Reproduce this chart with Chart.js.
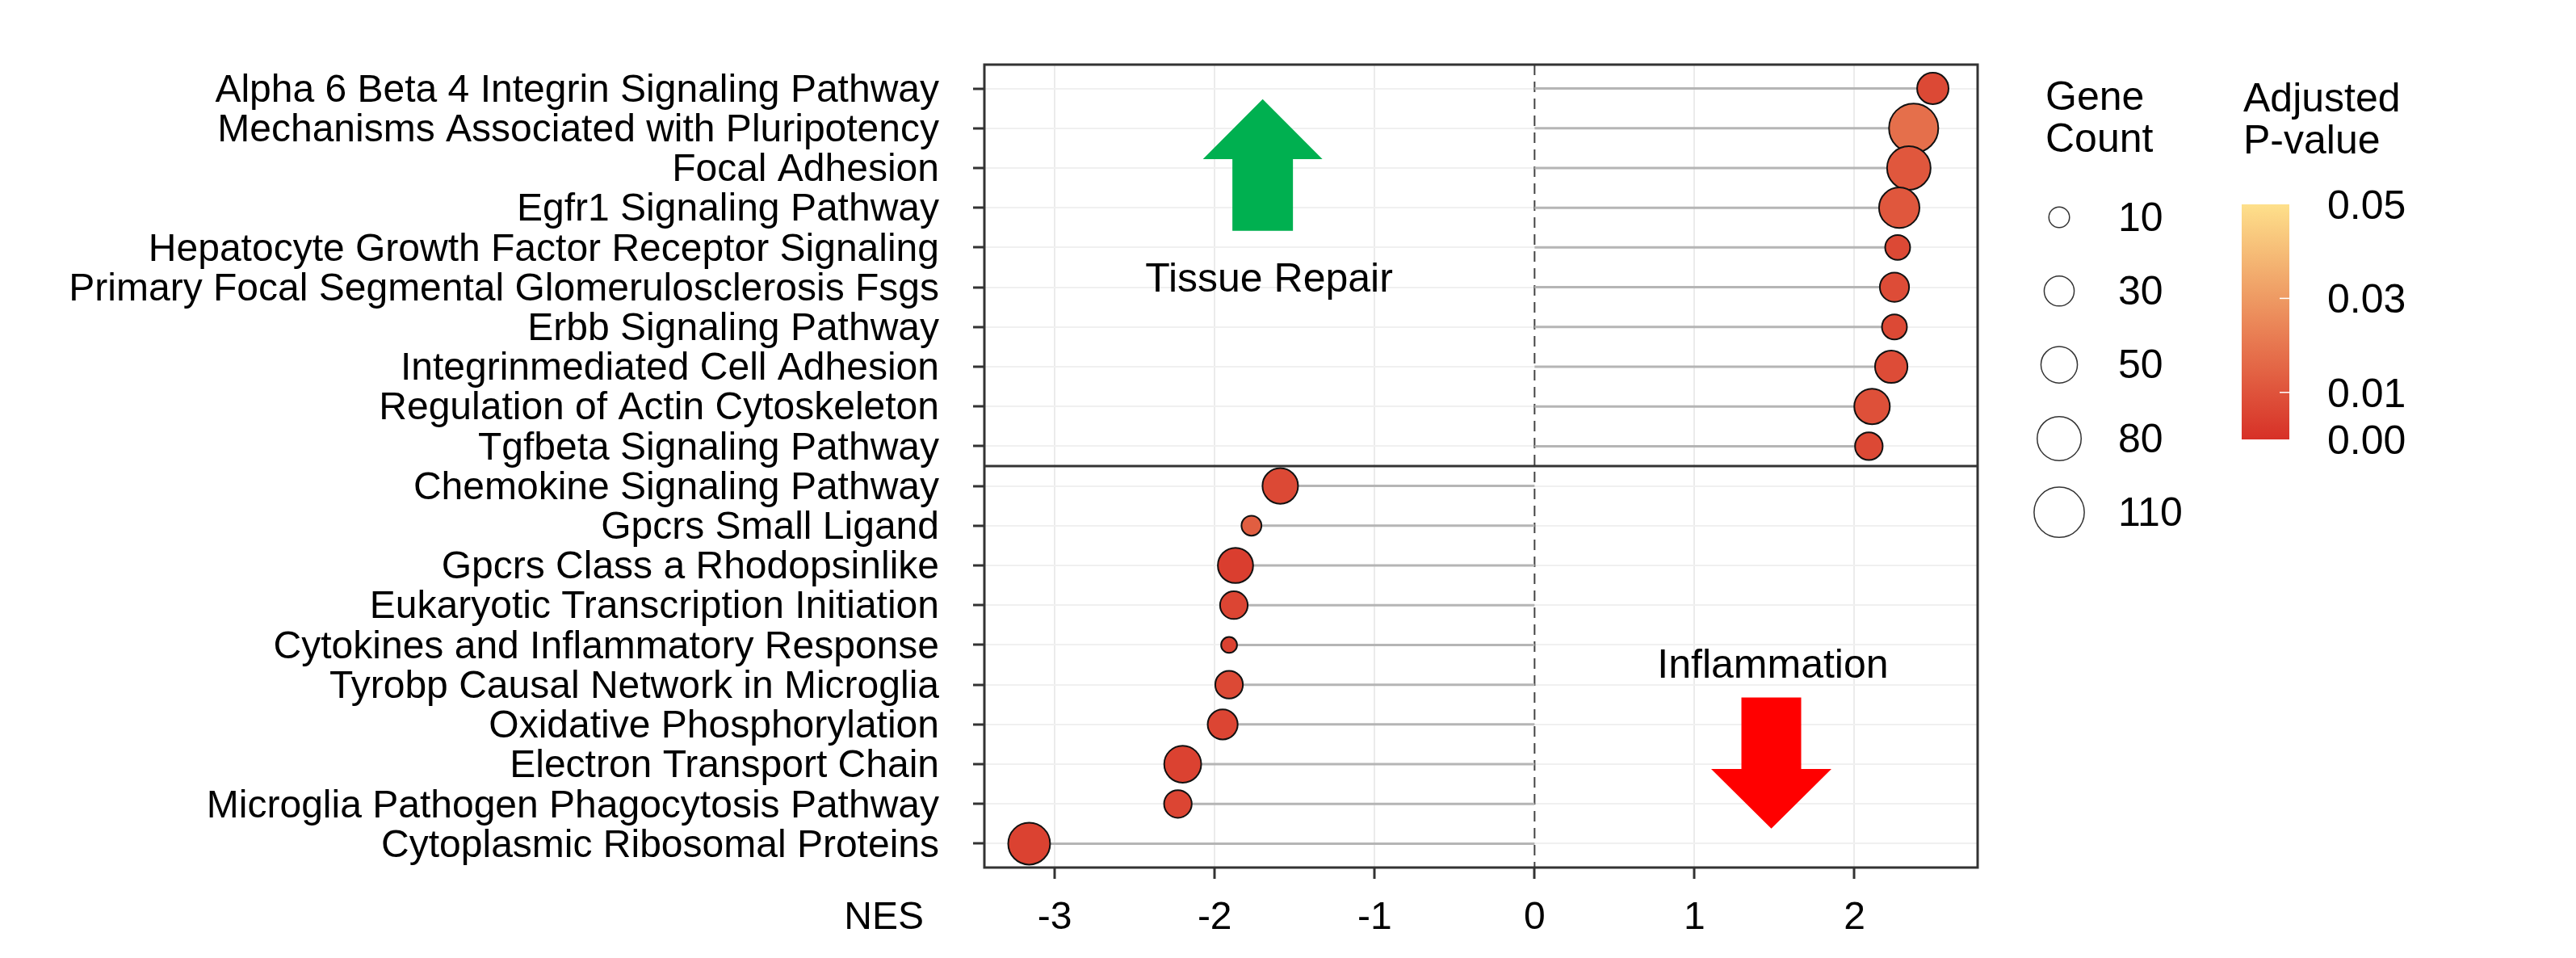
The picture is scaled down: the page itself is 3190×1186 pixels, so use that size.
<!DOCTYPE html>
<html>
<head>
<meta charset="utf-8">
<script src="https://cdn.jsdelivr.net/npm/chart.js@4.4.1/dist/chart.umd.min.js"></script>
<style>
  html, body { margin: 0; padding: 0; background: #ffffff; }
  #wrap { width: 3190px; height: 1186px; }
</style>
</head>
<body>
<div id="wrap"><canvas id="myChart" width="3190" height="1186"></canvas></div>
<script>
const pathways = [
  'Alpha 6 Beta 4 Integrin Signaling Pathway',
  'Mechanisms Associated with Pluripotency',
  'Focal Adhesion',
  'Egfr1 Signaling Pathway',
  'Hepatocyte Growth Factor Receptor Signaling',
  'Primary Focal Segmental Glomerulosclerosis Fsgs',
  'Erbb Signaling Pathway',
  'Integrinmediated Cell Adhesion',
  'Regulation of Actin Cytoskeleton',
  'Tgfbeta Signaling Pathway',
  'Chemokine Signaling Pathway',
  'Gpcrs Small Ligand',
  'Gpcrs Class a Rhodopsinlike',
  'Eukaryotic Transcription Initiation',
  'Cytokines and Inflammatory Response',
  'Tyrobp Causal Network in Microglia',
  'Oxidative Phosphorylation',
  'Electron Transport Chain',
  'Microglia Pathogen Phagocytosis Pathway',
  'Cytoplasmic Ribosomal Proteins'
]
const nes = [2.49, 2.37, 2.34, 2.28, 2.27, 2.25, 2.25, 2.23, 2.11, 2.09,
  -1.59, -1.77, -1.87, -1.88, -1.91, -1.91, -1.95, -2.20, -2.23, -3.16]
const geneCount = [34, 105, 78, 65, 18, 28, 18, 37, 47, 24,
  47, 9, 46, 24, 4, 24, 30, 52, 24, 71]
const padj = [0.007, 0.018, 0.011, 0.011, 0.007, 0.008, 0.007, 0.008, 0.009, 0.007,
  0.007, 0.013, 0.004, 0.006, 0.005, 0.007, 0.006, 0.005, 0.006, 0.005]
const nesTicks = [-3, -2, -1, 0, 1, 2]
const sizeBreaks = [10, 30, 50, 80, 110]
const padjBreaks = [0.05, 0.03, 0.01, 0.00]

const FONT = "'Liberation Sans', Arial, sans-serif"
const lowColor = [215, 48, 39]
const highColor = [254, 224, 139]

// p-value -> colour, linear between red and pale yellow over 0..0.05
function padjColor(p) {
  const t = Math.max(0, Math.min(1, p / 0.05))
  const c = lowColor.map((v, k) => Math.round(v + (highColor[k] - v) * t))
  return 'rgb(' + c.join(',') + ')'
}
// gene count -> bubble radius in px
function sizeRadius(n) {
  return (11.7 + 5.01 * Math.sqrt(n)) / 2 - 1
}

const bubbleData = nes.map((v, i) => ({ x: v, y: i, r: sizeRadius(geneCount[i]) }))
const stemSets = nes.map((v, i) => ({
  type: 'line',
  data: [{ x: 0, y: i }, { x: v, y: i }],
  borderColor: '#b5b5b5',
  borderWidth: 3,
  pointRadius: 0,
  order: 2,
  clip: false,
}))

function arrow(ctx, cx, tipY, baseY, endY, headHalf, shaftHalf, color) {
  ctx.save()
  ctx.fillStyle = color
  ctx.beginPath()
  ctx.moveTo(cx, tipY)
  ctx.lineTo(cx + headHalf, baseY)
  ctx.lineTo(cx + shaftHalf, baseY)
  ctx.lineTo(cx + shaftHalf, endY)
  ctx.lineTo(cx - shaftHalf, endY)
  ctx.lineTo(cx - shaftHalf, baseY)
  ctx.lineTo(cx - headHalf, baseY)
  ctx.closePath()
  ctx.fill()
  ctx.restore()
}

const decor = {
  id: 'decor',
  beforeDatasetsDraw(chart) {
    const { ctx, chartArea, scales } = chart
    const x0 = scales.x.getPixelForValue(0)
    ctx.save()
    ctx.strokeStyle = '#444444'
    ctx.lineWidth = 2
    ctx.setLineDash([13, 8])
    ctx.beginPath()
    ctx.moveTo(x0, chartArea.top)
    ctx.lineTo(x0, chartArea.bottom)
    ctx.stroke()
    ctx.restore()
  },
  afterDatasetsDraw(chart) {
    const { ctx, chartArea, scales } = chart
    ctx.save()
    ctx.strokeStyle = '#333333'
    ctx.lineWidth = 3
    ctx.strokeRect(chartArea.left, chartArea.top, chartArea.right - chartArea.left, chartArea.bottom - chartArea.top)
    const yd = scales.y.getPixelForValue(9.5)
    ctx.beginPath()
    ctx.moveTo(chartArea.left, yd)
    ctx.lineTo(chartArea.right, yd)
    ctx.stroke()
    ctx.restore()
  },
  afterDraw(chart) {
    const { ctx, chartArea, scales } = chart
    const xs = scales.x, ys = scales.y

    // annotations
    arrow(ctx, xs.getPixelForValue(-1.70), ys.getPixelForValue(0.27), ys.getPixelForValue(1.78),
      ys.getPixelForValue(3.58), 74, 37.5, '#00b050')
    arrow(ctx, xs.getPixelForValue(1.48), ys.getPixelForValue(18.62), ys.getPixelForValue(17.12),
      ys.getPixelForValue(15.32), 74.5, 37, '#ff0000')
    ctx.save()
    ctx.fillStyle = '#000000'
    ctx.font = '50px ' + FONT
    ctx.textAlign = 'center'
    ctx.textBaseline = 'alphabetic'
    ctx.fillText('Tissue Repair', xs.getPixelForValue(-1.66), ys.getPixelForValue(5.12))
    ctx.fillText('Inflammation', xs.getPixelForValue(1.49), ys.getPixelForValue(14.83))

    // x axis title
    ctx.font = '48px ' + FONT
    ctx.textAlign = 'right'
    ctx.fillText('NES', chartArea.left - 75, 1150)

    // size legend
    const lx = chartArea.right + 84
    ctx.textAlign = 'left'
    ctx.font = '50px ' + FONT
    ctx.fillText('Gene', lx, 136)
    ctx.fillText('Count', lx, 188)
    ctx.textBaseline = 'middle'
    sizeBreaks.forEach((b, i) => {
      const cy = 269 + i * 91.3
      ctx.beginPath()
      ctx.arc(lx + 17, cy, sizeRadius(b), 0, Math.PI * 2)
      ctx.strokeStyle = '#333333'
      ctx.lineWidth = 1.5
      ctx.stroke()
      ctx.fillText(String(b), lx + 90, cy + 3)
    })

    // colour bar legend
    const cx = chartArea.right + 327
    const barTop = 253, barBot = 544, barW = 59
    ctx.textBaseline = 'alphabetic'
    ctx.fillText('Adjusted', cx + 2, 138)
    ctx.fillText('P-value', cx + 2, 190)
    const grad = ctx.createLinearGradient(0, barBot, 0, barTop)
    for (let s = 0; s <= 10; s++) grad.addColorStop(s / 10, padjColor(0.05 * s / 10))
    ctx.fillStyle = grad
    ctx.fillRect(cx, barTop, barW, barBot - barTop)
    ctx.fillStyle = '#000000'
    ctx.textBaseline = 'middle'
    padjBreaks.forEach(b => {
      const py = barBot - (b / 0.05) * (barBot - barTop)
      if (b > 0 && b < 0.05) {
        ctx.strokeStyle = '#ffffff'
        ctx.lineWidth = 1.5
        ctx.beginPath()
        ctx.moveTo(cx + barW - 12, py)
        ctx.lineTo(cx + barW, py)
        ctx.stroke()
      }
      ctx.fillText(b.toFixed(2), cx + 106, py + 4)
    })
    ctx.restore()
  }
}

const ctx = document.getElementById('myChart')
const myChart = new Chart(ctx, {
  type: 'bubble',
  data: {
    datasets: [
      {
        type: 'bubble',
        data: bubbleData,
        backgroundColor: padj.map(padjColor),
        borderColor: '#111111',
        borderWidth: 2,
        order: 1,
        clip: false,
      },
    ].concat(stemSets),
  },
  options: {
    responsive: false,
    devicePixelRatio: 1,
    animation: false,
    events: [],
    layout: { padding: { left: 0, top: 80, right: 741, bottom: 0 } },
    plugins: {
      legend: { display: false },
      tooltip: { enabled: false },
    },
    scales: {
      x: {
        type: 'linear',
        min: -3.44,
        max: 2.77,
        afterBuildTicks: scale => { scale.ticks = nesTicks.map(v => ({ value: v })) },
        afterFit: scale => { scale.height = 112 },
        grid: {
          color: c => (c.tick && c.tick.value === 0 ? 'rgba(0,0,0,0)' : '#ebebeb'),
          lineWidth: 2,
          tickLength: 14,
          tickColor: '#333333',
          tickWidth: 3,
        },
        border: { display: false },
        ticks: {
          color: '#000000',
          font: { family: FONT, size: 48 },
          padding: 20,
          callback: v => String(v),
        },
      },
      y: {
        type: 'linear',
        min: -0.6,
        max: 19.6,
        reverse: true,
        afterBuildTicks: scale => { scale.ticks = pathways.map((p, i) => ({ value: i })) },
        afterFit: scale => { scale.width = 1219 },
        grid: {
          color: '#f0f0f0',
          lineWidth: 2,
          tickLength: 14,
          tickColor: '#333333',
          tickWidth: 3,
        },
        border: { display: false },
        ticks: {
          color: '#000000',
          font: { family: FONT, size: 48 },
          padding: 42,
          labelOffset: 3,
          autoSkip: false,
          callback: v => pathways[v],
        },
      },
    },
  },
  plugins: [decor],
})
</script>
</body>
</html>
